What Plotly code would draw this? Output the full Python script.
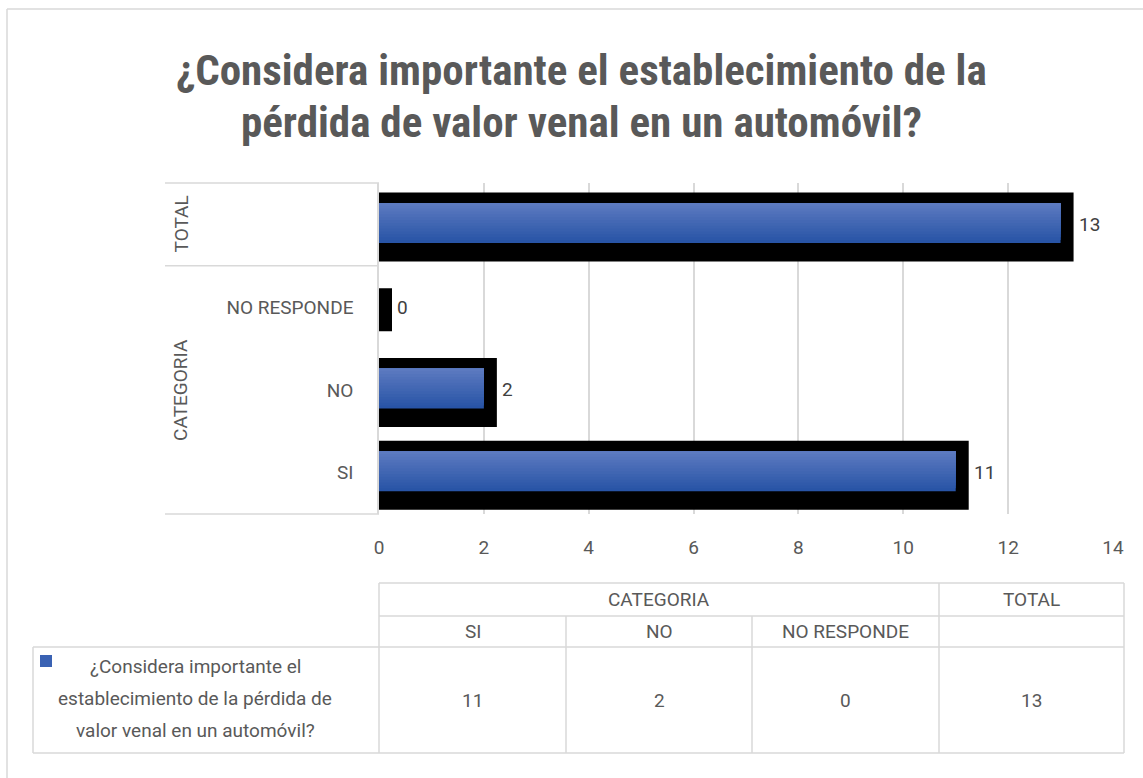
import plotly.graph_objects as go

# ---------------- data ----------------
categories = ["SI", "NO", "NO RESPONDE", "TOTAL"]          # bottom -> top
cat_labels = ["SI", "NO", "NO RESPONDE", ""]
groups = ["CATEGORIA", "TOTAL"]
values = [11, 2, 0, 13]
series_name = "¿Considera importante el establecimiento de la pérdida de valor venal en un automóvil?"
title_lines = ["¿Considera importante el establecimiento de la",
               "pérdida de valor venal en un automóvil?"]
x_ticks = [0, 2, 4, 6, 8, 10, 12, 14]
table_sub = ["SI", "NO", "NO RESPONDE", ""]
table_vals = [11, 2, 0, 13]
legend_lines = ["¿Considera importante el",
                "establecimiento de la pérdida de",
                "valor venal en un automóvil?"]

# ---------------- layout helpers ----------------
W, H = 1143, 778
L, R, T, B = 379, 1113, 183, 514
def px(x):
    return (x - L) / (R - L)
def py(y):
    return (B - y) / (B - T)

TFONT = "Liberation Sans Narrow, Arial Narrow, Roboto Condensed, Liberation Sans, sans-serif"
FONT = "Roboto, Liberation Sans, sans-serif"
GRAY = "#595959"
LINE = "#d9d9d9"
BLUE = "#3a62b3"
TOP_BLUE = (92, 122, 192)
BOT_BLUE = (40, 84, 166)
row_h = (B - T) / 4.0

fig = go.Figure()
# black thick frame behind
bw = 43 / row_h
fig.add_trace(go.Bar(
    y=categories, x=values, orientation="h",
    width=bw, offset=-bw / 2 - 2.5 / row_h,
    marker=dict(color="black", line=dict(color="black", width=26)),
    hoverinfo="skip", showlegend=False,
))
# blue bar on top: nested bands (each from a step up to the top) give a vertical gradient
bb = 40 / row_h
NB = 14
band = bb / NB
base_off = -bb / 2 + 1.5 / row_h
for k in range(NB):
    f = k / (NB - 1)
    col = tuple(round(BOT_BLUE[j] + (TOP_BLUE[j] - BOT_BLUE[j]) * f) for j in range(3))
    fig.add_trace(go.Bar(
        y=categories, x=values, orientation="h",
        width=bb - k * band, offset=base_off + k * band,
        marker=dict(color="rgb(%d,%d,%d)" % col, line=dict(width=0)),
        name=series_name, showlegend=False, hoverinfo="x+y" if k == 0 else "skip",
    ))

annotations = []
# data labels
for c, v in zip(categories, values):
    annotations.append(dict(x=v, y=c, xref="x", yref="y", text=str(v), showarrow=False,
                            xanchor="left", yanchor="middle", xshift=16, yshift=0,
                            font=dict(family=FONT, size=19, color="#404040")))
# title
for i, t in enumerate(title_lines):
    annotations.append(dict(x=px(581), y=py([70, 122][i]), xref="paper", yref="paper",
                            text="<b>%s</b>" % t, showarrow=False, xanchor="center", yanchor="middle",
                            font=dict(family=TFONT, size=43, color=GRAY)))
# group labels (rotated)
annotations.append(dict(x=px(181), y=categories[3], xref="paper", yref="y", text=groups[1],
                        textangle=-90, showarrow=False, xanchor="center", yanchor="middle",
                        font=dict(family=FONT, size=19, color=GRAY)))
annotations.append(dict(x=px(181), y=categories[1], xref="paper", yref="y", text=groups[0],
                        textangle=-90, showarrow=False, xanchor="center", yanchor="middle",
                        font=dict(family=FONT, size=19, color=GRAY)))

shapes = []
def hline(y, x0, x1):
    shapes.append(dict(type="line", xref="paper", yref="paper", x0=px(x0), x1=px(x1),
                       y0=py(y), y1=py(y), line=dict(color=LINE, width=1.5)))
def vline(x, y0, y1):
    shapes.append(dict(type="line", xref="paper", yref="paper", x0=px(x), x1=px(x),
                       y0=py(y0), y1=py(y1), line=dict(color=LINE, width=1.5)))

# outer frame (only top/left visible)
hline(9, 7, 1150)
vline(7, 9, 790)
# category axis dividers
hline(T, 165, L)
hline(T + row_h, 165, L)
hline(B, 165, L)

# data table
cols = [379, 566, 752, 939, 1124]
r0, r1, r2, r3 = 583, 616, 647, 753
hline(r0, cols[0], cols[-1])
hline(r1, cols[0], cols[-1])
hline(r2, 33, cols[-1])
hline(r3, 33, cols[-1])
vline(33, r2, r3)
vline(cols[0], r0, r3)
for cx in cols[1:3]:
    vline(cx, r1, r3)
vline(cols[3], r0, r3)
vline(cols[4], r0, r3)

tfont = dict(family=FONT, size=19, color=GRAY)
def cell(x, y, text):
    annotations.append(dict(x=px(x), y=py(y), xref="paper", yref="paper", text=text,
                            showarrow=False, xanchor="center", yanchor="middle", font=tfont))
cell((cols[0] + cols[3]) / 2, (r0 + r1) / 2, groups[0])
cell((cols[3] + cols[4]) / 2, (r0 + r1) / 2, groups[1])
for i, s in enumerate(table_sub):
    if s:
        cell((cols[i] + cols[i + 1]) / 2, (r1 + r2) / 2, s)
    cell((cols[i] + cols[i + 1]) / 2, 700, str(table_vals[i]))
for i, ln in enumerate(legend_lines):
    cell(195, [666, 698, 730][i], ln)
# legend key
shapes.append(dict(type="rect", xref="paper", yref="paper", x0=px(40), x1=px(52), y0=py(655), y1=py(667),
                   fillcolor=BLUE, line=dict(width=0)))

fig.update_layout(
    width=W, height=H,
    margin=dict(l=L, r=W - R, t=T, b=H - B),
    paper_bgcolor="white", plot_bgcolor="white",
    barmode="overlay",
    showlegend=False,
    xaxis=dict(range=[0, 14], tickvals=x_ticks, showgrid=True, gridcolor=LINE, gridwidth=1.5,
               zeroline=False, showline=False, ticks="",
               tickfont=dict(family=FONT, size=19, color=GRAY), ticklabelstandoff=20),
    yaxis=dict(type="category", categoryorder="array", categoryarray=categories,
               tickvals=categories, ticktext=cat_labels, showgrid=False, zeroline=False,
               showline=True, linecolor=LINE, linewidth=1.5, ticks="",
               tickfont=dict(family=FONT, size=19, color=GRAY), ticklabelstandoff=20,
               range=[-0.5, 3.5]),
    annotations=annotations,
    shapes=shapes,
)

fig.write_html("out.html", config={"displayModeBar": False},
               post_script="document.body.style.margin='0px';")
